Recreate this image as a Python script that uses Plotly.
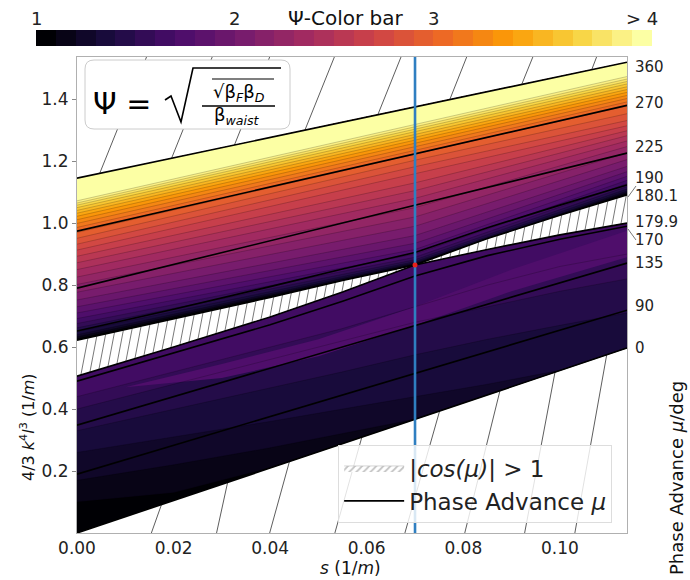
import numpy as np
import plotly.graph_objects as go
from plotly.colors import sample_colorscale

# ---------------- values ----------------
S_RANGE = [0.0, 0.1139]
Y_RANGE = [0.0, 1.536]
X_TICKS = [0.00, 0.02, 0.04, 0.06, 0.08, 0.10]
Y_TICKS = [0.2, 0.4, 0.6, 0.8, 1.0, 1.2, 1.4]

S_KNOTS = [0.0, 0.02, 0.04, 0.055, 0.07, 0.085, 0.10, 0.1139]

# phase-advance contour lines: y at S_KNOTS
MU_000 = [0.000, 0.105, 0.210, 0.289, 0.367, 0.446, 0.525, 0.597]
MU_090 = [0.190, 0.283, 0.376, 0.446, 0.515, 0.585, 0.655, 0.719]
MU_135 = [0.348, 0.440, 0.532, 0.601, 0.670, 0.739, 0.808, 0.871]
MU_170 = [0.490, 0.580, 0.672, 0.748, 0.829, 0.895, 0.948, 0.990]
MU_1799 = [0.506, 0.600, 0.697, 0.778, 0.865, 0.915, 0.962, 1.000]
MU_1801 = [0.622, 0.690, 0.760, 0.815, 0.865, 0.950, 1.025, 1.091]
MU_190 = [0.652, 0.722, 0.795, 0.852, 0.905, 0.985, 1.058, 1.123]
MU_225 = [0.790, 0.867, 0.943, 1.001, 1.058, 1.116, 1.173, 1.226]
MU_270 = [0.974, 1.045, 1.117, 1.170, 1.224, 1.277, 1.331, 1.380]
MU_360 = [1.145, 1.211, 1.276, 1.326, 1.375, 1.424, 1.474, 1.519]

# right-hand phase advance labels (deg) and their heights
MU_TICK_TEXT = ["360", "270", "225", "190", "180.1", "179.9", "170", "135", "90", "0"]
MU_TICK_Y = [1.506, 1.387, 1.245, 1.145, 1.087, 1.003, 0.945, 0.871, 0.732, 0.597]

# Psi contour levels above the unstable band: y at s = 0, 0.07, s_max
PSI_UP_S = [0.0, 0.07, 0.1139]
PSI_UP_LEVELS = [1.1, 1.2, 1.3, 1.4, 1.5, 1.6, 1.7, 1.8, 1.9, 2.0,
                 2.1, 2.2, 2.3, 2.4, 2.5, 2.6, 2.7, 2.8, 2.9, 3.0,
                 3.1, 3.2, 3.3, 3.4, 3.5, 3.6, 3.7, 3.8, 3.9, 4.0]
PSI_UP_Y_LEFT = [0.627, 0.633, 0.640, 0.650, 0.662, 0.676, 0.692, 0.710, 0.730, 0.752,
                 0.777, 0.802, 0.826, 0.850, 0.872, 0.893, 0.913, 0.932, 0.951, 0.970,
                 0.986, 0.999, 1.011, 1.022, 1.032, 1.041, 1.050, 1.058, 1.065, 1.072]
PSI_UP_Y_PINCH = [0.867, 0.869, 0.872, 0.876, 0.882, 0.890, 0.900, 0.915, 0.935, 0.960,
                  0.990, 1.020, 1.050, 1.080, 1.105, 1.130, 1.160, 1.182, 1.203, 1.224,
                  1.236, 1.248, 1.259, 1.269, 1.278, 1.287, 1.296, 1.304, 1.312, 1.319]
PSI_UP_Y_RIGHT = [1.095, 1.099, 1.104, 1.110, 1.118, 1.127, 1.138, 1.151, 1.166, 1.183,
                  1.205, 1.227, 1.247, 1.265, 1.282, 1.298, 1.314, 1.331, 1.353, 1.378,
                  1.391, 1.402, 1.412, 1.422, 1.431, 1.440, 1.449, 1.457, 1.465, 1.473]

# Psi contour levels below the unstable band: y at S_KNOTS
PSI_LOW_LEVELS = [1.1, 1.2, 1.3, 1.4, 1.5, 1.6]
PSI_LOW_11 = [0.10, 0.13, 0.17, 0.20, 0.23, 0.26, 0.29, 0.32]
PSI_LOW_12 = [0.17, 0.22, 0.275, 0.32, 0.36, 0.40, 0.44, 0.48]
PSI_LOW_13 = [0.26, 0.31, 0.36, 0.40, 0.44, 0.48, 0.52, 0.56]
PSI_LOW_14 = [0.33, 0.40, 0.47, 0.52, 0.575, 0.625, 0.67, 0.71]
PSI_LOW_15 = [0.40, 0.48, 0.56, 0.62, 0.68, 0.73, 0.78, 0.82]
PSI_LOW_16 = [0.44, 0.52, 0.60, 0.66, 0.73, 0.80, 0.86, 0.90]
# lighter island (Psi ~ 1.7)
ISLAND_PSI = 1.7
ISLAND_S = [0.01, 0.03, 0.05, 0.07, 0.09, 0.1139]
ISLAND_Y_LO = [0.47, 0.50, 0.57, 0.67, 0.78, 0.89]
ISLAND_Y_HI = [0.47, 0.545, 0.625, 0.73, 0.85, 0.975]

PINCH_S = 0.07
PINCH_Y = 0.865
S_MARK = 0.07

# hatch lines of the |cos(mu)|>1 regions outside the coloured area
HATCH_UP_S_BOT = [0.0047, 0.0196, 0.0326, 0.0472, 0.0623, 0.0772, 0.0921, 0.1066]
HATCH_UP_S_TOP = [0.0144, 0.0280, 0.0399, 0.0533, 0.0671, 0.0807, 0.0944, 0.1076]
HATCH_LOW_S_TOP = [0.0175, 0.0312, 0.0440, 0.0590, 0.0751, 0.0876, 0.0990, 0.1097]
HATCH_LOW_S_BOT = [0.0154, 0.0289, 0.0399, 0.0534, 0.0679, 0.0803, 0.0927, 0.1031]

PSI_MIN, PSI_MAX, PSI_STEP = 1.0, 4.1, 0.1
CB_TICKS = [1, 2, 3, 4.05]
CB_TEXT = ["1", "2", "3", "> 4"]

# ---------------- layout geometry (pixels) ----------------
W, H = 690, 580
ML, MR, MT, MB = 77, 63, 57, 47
PW, PH = W - ML - MR, H - MT - MB
PX_S = PW / (S_RANGE[1] - S_RANGE[0])
PX_Y = PH / (Y_RANGE[1] - Y_RANGE[0])
CB_X0, CB_X1, CB_YC = 36, 652, 38


def PX(x):
    return (x - ML) / PW


def PY(y):
    return (H - MB - y) / PH


FONT = "DejaVu Sans"
n_bands = int(round((PSI_MAX - PSI_MIN) / PSI_STEP))
band_cols = sample_colorscale("Inferno", [k / (n_bands - 1) for k in range(n_bands)])


def col_of(level):
    k = int(round((level - PSI_MIN) / PSI_STEP))
    return band_cols[max(0, min(n_bands - 1, k))]


s = np.array(S_KNOTS)
fig = go.Figure()


def poly(xs_lo, lo, xs_hi, hi, color):
    x = list(xs_lo) + list(xs_hi)[::-1]
    y = list(lo) + list(hi)[::-1]
    fig.add_trace(go.Scatter(x=x, y=y, mode="lines", fill="toself", fillcolor=color,
                             line=dict(width=0), hoverinfo="skip", showlegend=False))


def segs(pairs):
    xs, ys = [], []
    for (x0, y0, x1, y1) in pairs:
        xs += [x0, x1, None]
        ys += [y0, y1, None]
    return xs, ys


# legend entry for hatch
fig.add_trace(go.Scatter(x=[-1, -0.9, -0.9, -1], y=[-1, -1, -0.9, -0.9], mode="lines",
                         fill="toself", fillcolor="white",
                         fillpattern=dict(shape="/", fgcolor="#888888", bgcolor="white",
                                          size=5, solidity=0.35),
                         line=dict(width=0.6, color="#bbbbbb"),
                         name="<i>|cos(μ)|</i> > 1", hoverinfo="skip"))

edge_up = np.array(MU_1801)
edge_lo = np.array(MU_1799)
top = np.array(MU_360)
bot = np.array(MU_000)

# --- hatch: unstable band (dense)
pairs = []
step = 9.0 / PX_S
si = 0.0008
while si < S_RANGE[1]:
    ylo = np.interp(si, s, edge_lo)
    yhi0 = np.interp(si, s, edge_up)
    hpx = (yhi0 - ylo) * PX_Y
    st = min(si + 0.2 * hpx / PX_S, S_RANGE[1])
    yhi = np.interp(st, s, edge_up)
    if yhi - ylo > 0.002:
        pairs.append((si, ylo, st, yhi))
    si += step
hx, hy = segs(pairs)
fig.add_trace(go.Scatter(x=hx, y=hy, mode="lines", line=dict(color="#555555", width=0.8),
                         hoverinfo="skip", showlegend=False))

# --- hatch: outer regions (sparse)
pairs = []
for sb, st in zip(HATCH_UP_S_BOT, HATCH_UP_S_TOP):
    pairs.append((sb, np.interp(sb, s, top), st, Y_RANGE[1]))
for st, sb in zip(HATCH_LOW_S_TOP, HATCH_LOW_S_BOT):
    pairs.append((st, np.interp(st, s, bot), sb, 0.0))
hx, hy = segs(pairs)
fig.add_trace(go.Scatter(x=hx, y=hy, mode="lines", line=dict(color="#333333", width=0.8),
                         hoverinfo="skip", showlegend=False))

# --- coloured Psi bands above the unstable band
poly(s, edge_up, s, top, col_of(PSI_MIN))
up_lines = []
for k, lev in enumerate(PSI_UP_LEVELS):
    yl = np.interp(s, PSI_UP_S, [PSI_UP_Y_LEFT[k], PSI_UP_Y_PINCH[k], PSI_UP_Y_RIGHT[k]])
    yl = np.minimum(np.maximum(yl, edge_up), top)
    poly(s, yl, s, top, col_of(lev))
    up_lines.append(yl)

# --- coloured Psi bands below the unstable band
poly(s, bot, s, edge_lo, col_of(PSI_MIN))
low_lines = []
for lev, ys in zip(PSI_LOW_LEVELS, [PSI_LOW_11, PSI_LOW_12, PSI_LOW_13,
                                    PSI_LOW_14, PSI_LOW_15, PSI_LOW_16]):
    yl = np.minimum(np.maximum(np.array(ys), bot), edge_lo)
    poly(s, yl, s, edge_lo, col_of(lev))
    low_lines.append(yl)
poly(ISLAND_S, ISLAND_Y_LO, ISLAND_S, ISLAND_Y_HI, col_of(ISLAND_PSI))

# thin Psi contour lines
tx, ty = [], []
for yl in up_lines + low_lines:
    tx += list(s) + [None]
    ty += list(yl) + [None]
fig.add_trace(go.Scatter(x=tx, y=ty, mode="lines", line=dict(color="rgba(0,0,0,0.28)", width=0.7),
                         hoverinfo="skip", showlegend=False))

# --- phase advance contour lines
mx, my = [], []
for ys in [MU_000, MU_090, MU_135, MU_170, MU_1799, MU_1801, MU_190, MU_225, MU_270, MU_360]:
    mx += list(s) + [None]
    my += list(ys) + [None]
fig.add_trace(go.Scatter(x=mx, y=my, mode="lines", line=dict(color="black", width=1.6),
                         name="Phase Advance <i>μ</i>", hoverinfo="skip"))

# --- vertical marker and pinch point
fig.add_trace(go.Scatter(x=[S_MARK, S_MARK], y=Y_RANGE, mode="lines",
                         line=dict(color="#2f7fc1", width=2.6), hoverinfo="skip", showlegend=False))
fig.add_trace(go.Scatter(x=[PINCH_S], y=[PINCH_Y], mode="markers",
                         marker=dict(color="#e8201c", size=5), hoverinfo="skip", showlegend=False))

# --- colour bar carrier
cscale = []
for k in range(n_bands):
    cscale.append([k / n_bands, band_cols[k]])
    cscale.append([(k + 1) / n_bands, band_cols[k]])
fig.add_trace(go.Scatter(x=[-1, -1], y=[-1, -1], mode="markers", showlegend=False, hoverinfo="skip",
                         marker=dict(size=1, color=[PSI_MIN, PSI_MAX], cmin=PSI_MIN, cmax=PSI_MAX,
                                     colorscale=cscale, showscale=True,
                                     colorbar=dict(orientation="h", x=PX((CB_X0 + CB_X1) / 2),
                                                   xanchor="center", y=PY(CB_YC), yanchor="middle",
                                                   len=CB_X1 - CB_X0, lenmode="pixels", thickness=16,
                                                   showticklabels=False, ticks="",
                                                   outlinewidth=0, xpad=0, ypad=0))))

# dummy on right axis
fig.add_trace(go.Scatter(x=[-1], y=[-1], yaxis="y2", mode="markers", showlegend=False,
                         hoverinfo="skip", marker=dict(size=1, color="rgba(0,0,0,0)")))

# ---------------- layout ----------------
shapes = []
# rounded formula box
bx0, bx1, by0, by1, r = 85, 290, 60, 129, 9
path = (f"M {PX(bx0 + r)} {PY(by0)} L {PX(bx1 - r)} {PY(by0)} "
        f"Q {PX(bx1)} {PY(by0)} {PX(bx1)} {PY(by0 + r)} L {PX(bx1)} {PY(by1 - r)} "
        f"Q {PX(bx1)} {PY(by1)} {PX(bx1 - r)} {PY(by1)} L {PX(bx0 + r)} {PY(by1)} "
        f"Q {PX(bx0)} {PY(by1)} {PX(bx0)} {PY(by1 - r)} L {PX(bx0)} {PY(by0 + r)} "
        f"Q {PX(bx0)} {PY(by0)} {PX(bx0 + r)} {PY(by0)} Z")
shapes.append(dict(type="path", path=path, xref="paper", yref="paper", layer="above",
                   fillcolor="white", line=dict(color="#cccccc", width=1)))
# outer radical
rad = [(165, 100), (171, 96), (181, 122), (193, 68), (281, 68)]
rp = "M " + " L ".join(f"{PX(a)} {PY(b)}" for a, b in rad)
shapes.append(dict(type="path", path=rp, xref="paper", yref="paper", layer="above",
                   line=dict(color="black", width=1.6)))
# inner radical overline and fraction bar
shapes.append(dict(type="line", xref="paper", yref="paper", layer="above",
                   x0=PX(212), x1=PX(274), y0=PY(79), y1=PY(79), line=dict(color="black", width=1.2)))
shapes.append(dict(type="line", xref="paper", yref="paper", layer="above",
                   x0=PX(202), x1=PX(275), y0=PY(106), y1=PY(106), line=dict(color="black", width=1.4)))
# leader lines for right labels
shapes.append(dict(type="line", xref="paper", yref="paper", x0=PX(628), y0=PY(197), x1=PX(636), y1=PY(186),
                   line=dict(color="#555", width=0.8)))
shapes.append(dict(type="line", xref="paper", yref="paper", x0=PX(628), y0=PY(229), x1=PX(636), y1=PY(240),
                   line=dict(color="#555", width=0.8)))

ann = []
ann.append(dict(text="Ψ = ", x=PX(127), y=PY(103), font=dict(size=30, color="black")))
ann.append(dict(text="√β<sub><i>F</i></sub>β<sub><i>D</i></sub>", x=PX(239), y=PY(93),
                font=dict(size=18, color="black")))
ann.append(dict(text="β<sub><i>waist</i></sub>", x=PX(237), y=PY(116), font=dict(size=18, color="black")))
ann.append(dict(text="Ψ-Color bar", x=PX(345), y=PY(18), font=dict(size=20, color="#111")))
cb_px = (CB_X1 - CB_X0) / (PSI_MAX - PSI_MIN)
for v, t in zip(CB_TICKS, CB_TEXT):
    ann.append(dict(text=t, x=PX(CB_X0 + (v - PSI_MIN) * cb_px), y=PY(18), font=dict(size=18, color="#222")))
ann.append(dict(text="4/3 <i>k</i><sup>4</sup><i>l</i><sup>3</sup> (1/<i>m</i>)", x=PX(27), y=PY(427),
                textangle=-90, font=dict(size=16, color="#111")))
ann.append(dict(text="Phase Advance <i>μ</i>/deg", x=PX(676), y=PY(478),
                textangle=-90, font=dict(size=18, color="#111")))
ann.append(dict(text="<i>s</i> (1/<i>m</i>)", x=PX(350), y=PY(568), font=dict(size=17, color="#111")))
for a in ann:
    a.update(xref="paper", yref="paper", showarrow=False, xanchor="center", yanchor="middle")
    a["font"]["family"] = FONT

fig.update_layout(
    width=W, height=H, margin=dict(l=ML, r=MR, t=MT, b=MB, pad=0),
    paper_bgcolor="white", plot_bgcolor="white",
    font=dict(family=FONT, color="#222"),
    xaxis=dict(range=S_RANGE, tickvals=X_TICKS, tickformat=".2f", showgrid=False, zeroline=False,
               showline=True, linecolor="#b0b0b0", linewidth=1, mirror=True,
               ticks="", tickfont=dict(size=17, color="#222")),
    yaxis=dict(range=Y_RANGE, tickvals=Y_TICKS, tickformat=".1f", showgrid=False, zeroline=False,
               showline=True, linecolor="#b0b0b0", linewidth=1, mirror=True,
               ticks="outside", ticklen=4, tickcolor="#888", tickfont=dict(size=17, color="#222")),
    yaxis2=dict(range=Y_RANGE, overlaying="y", side="right", tickvals=MU_TICK_Y, ticktext=MU_TICK_TEXT,
                showgrid=False, zeroline=False, showline=False, ticks="", ticklabelstandoff=7,
                tickfont=dict(size=15, color="#222")),
    legend=dict(x=0.973, xanchor="right", y=0.02, yanchor="bottom", bgcolor="rgba(255,255,255,0.82)",
                bordercolor="#dddddd", borderwidth=1, font=dict(size=23, color="#222"),
                itemwidth=60, tracegroupgap=2),
    shapes=shapes, annotations=ann, showlegend=True,
)

fig.write_html("out.html")
